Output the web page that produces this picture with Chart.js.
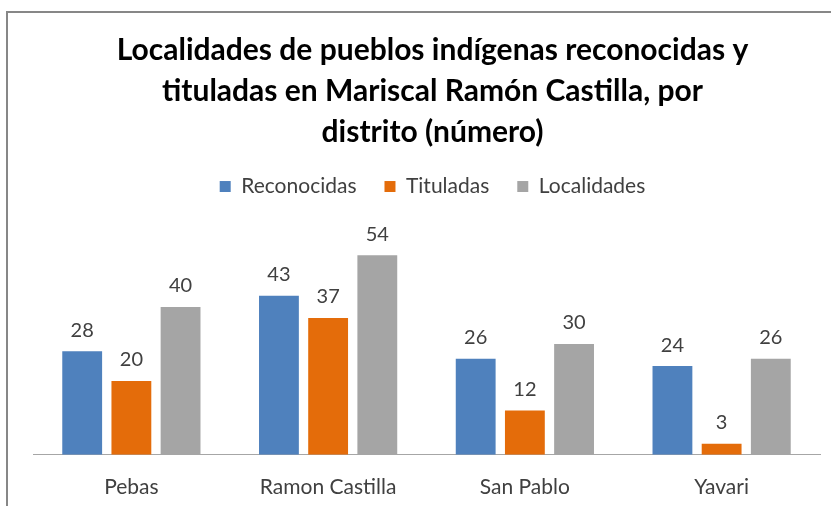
<!DOCTYPE html>
<html>
<head>
<meta charset="utf-8">
<script src="https://cdn.jsdelivr.net/npm/chart.js@4.4.1/dist/chart.umd.min.js"></script>
<style>
  html, body { margin: 0; padding: 0; background: #ffffff; }
  #wrap { position: relative; width: 831px; height: 506px; }
</style>
</head>
<body>
<div id="wrap"><canvas id="c" width="831" height="506"></canvas></div>
<script>
const categories = ["Pebas", "Ramon Castilla", "San Pablo", "Yavari"];
const reconocidas = [28, 43, 26, 24];
const tituladas = [20, 37, 12, 3];
const localidades = [40, 54, 30, 26];
const seriesNames = ["Reconocidas", "Tituladas", "Localidades"];
const titleLines = ["Localidades de pueblos indígenas reconocidas y", "tituladas en Mariscal Ramón Castilla, por", "distrito (número)"];

const FONT = "Lato, 'Open Sans', sans-serif";

const frame = {
  id: 'frame',
  beforeDraw(chart) {
    const ctx = chart.ctx;
    ctx.save();
    ctx.fillStyle = '#ffffff';
    ctx.fillRect(0, 0, chart.width, chart.height);
    ctx.strokeStyle = '#878787';
    ctx.lineWidth = 2;
    ctx.beginPath();
    ctx.moveTo(7, chart.height);
    ctx.lineTo(7, 12);
    ctx.lineTo(chart.width, 12);
    ctx.stroke();
    ctx.restore();
  }
};

const legendSpace = {
  id: 'legendSpace',
  beforeInit(chart) {
    const origFit = chart.legend.fit;
    chart.legend.fit = function () {
      origFit.bind(chart.legend)();
      this.height += 26;
    };
  },
  afterLayout(chart) {
    const shift = 6;
    [chart.titleBlock, chart.legend].forEach(b => {
      if (b) { b.left += shift; b.right += shift; }
    });
  }
};

const valueLabels = {
  id: 'valueLabels',
  afterDatasetsDraw(chart) {
    const ctx = chart.ctx;
    ctx.save();
    ctx.font = "20px " + FONT;
    ctx.fillStyle = '#404040';
    ctx.textAlign = 'center';
    ctx.textBaseline = 'middle';
    chart.data.datasets.forEach((ds, i) => {
      chart.getDatasetMeta(i).data.forEach((bar, j) => {
        ctx.fillText(String(ds.data[j]), bar.x, bar.y - 21);
      });
    });
    ctx.restore();
  }
};

new Chart(document.getElementById('c'), {
  type: 'bar',
  data: {
    labels: categories,
    datasets: [
      { label: seriesNames[0], data: reconocidas, backgroundColor: '#4F81BD' },
      { label: seriesNames[1], data: tituladas, backgroundColor: '#E46C0A' },
      { label: seriesNames[2], data: localidades, backgroundColor: '#A5A5A5' }
    ]
  },
  options: {
    responsive: false,
    animation: false,
    devicePixelRatio: 1,
    categoryPercentage: 0.75,
    barPercentage: 0.81,
    layout: { padding: { left: 33, right: 11, top: 0, bottom: -14 } },
    plugins: {
      title: {
        display: true,
        text: titleLines,
        color: '#000000',
        font: { family: FONT, size: 30, weight: 'bold', lineHeight: 1.367 },
        padding: { top: 30, bottom: -5 }
      },
      legend: {
        display: true,
        position: 'top',
        labels: {
          color: '#404040',
          font: { family: FONT, size: 21 },
          boxWidth: 11,
          boxHeight: 11,
          padding: 28
        }
      },
      tooltip: { enabled: false }
    },
    scales: {
      x: {
        grid: { display: false, drawTicks: false },
        border: { display: true, color: '#A6A6A6', width: 1 },
        ticks: { color: '#404040', font: { family: FONT, size: 21 }, padding: 20 }
      },
      y: {
        display: false,
        min: 0,
        max: 60
      }
    }
  },
  plugins: [frame, legendSpace, valueLabels]
});
</script>
</body>
</html>
